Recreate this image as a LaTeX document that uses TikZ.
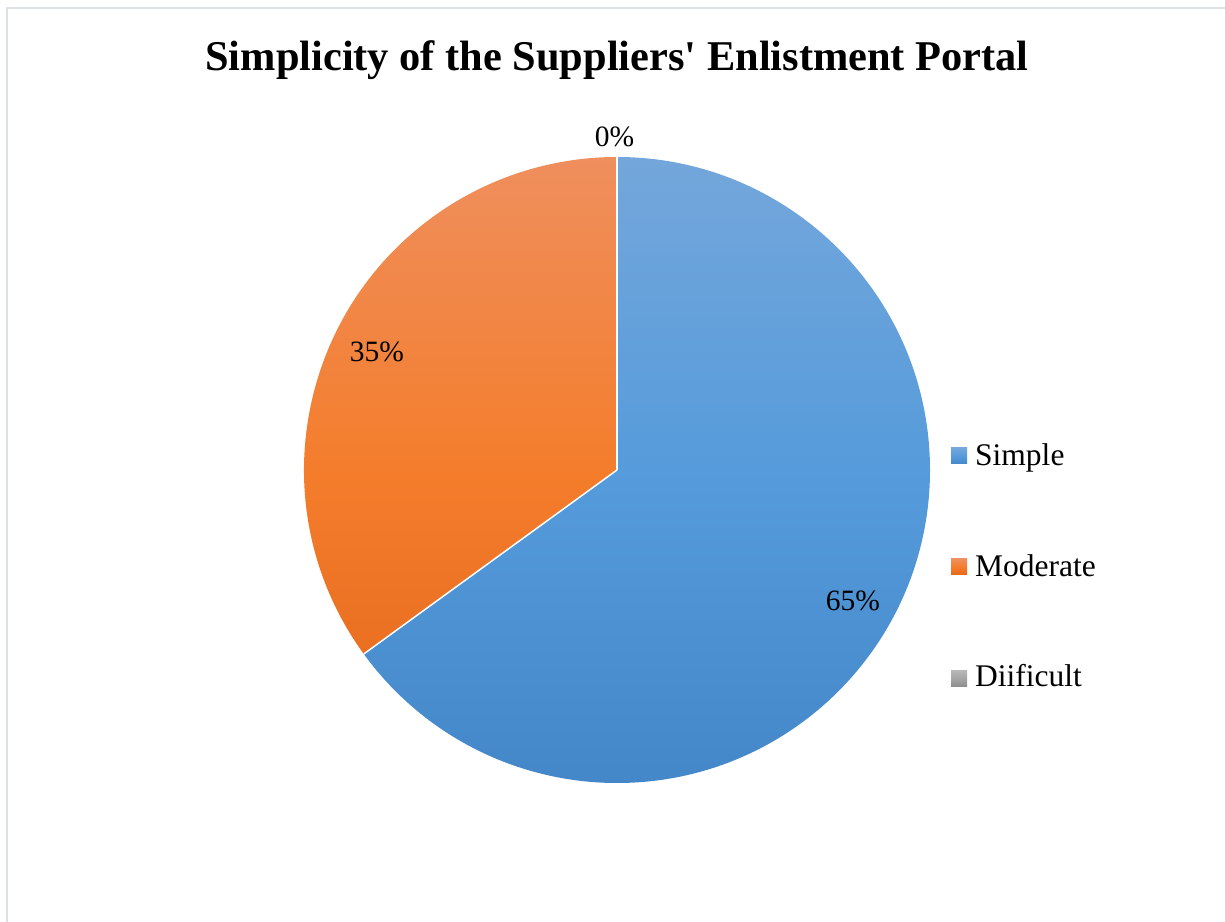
\documentclass[tikz,border=0pt]{standalone}
\usepackage{fontspec}
\setmainfont{Liberation Serif}[Ligatures=TeXOff]
\usetikzlibrary{calc}
\definecolor{framecol}{HTML}{DDE2E7}
\definecolor{blueTop}{HTML}{74A7DB}
\definecolor{blueMid}{HTML}{569BDB}
\definecolor{blueBot}{HTML}{4387C8}
\definecolor{orTop}{HTML}{EF8F5E}
\definecolor{orMid}{HTML}{F47D2C}
\definecolor{orBot}{HTML}{E4661A}
\definecolor{grTop}{HTML}{B8B8B8}
\definecolor{grMid}{HTML}{A5A5A5}
\definecolor{grBot}{HTML}{8E8E8E}
\tikzset{
  pct/.style={anchor=base, inner sep=0pt, font=\fontsize{29.5}{34}\selectfont},
  legtext/.style={anchor=base west, inner sep=0pt, font=\fontsize{31.5}{36}\selectfont},
  legkey/.style={minimum size=16pt, inner sep=0pt},
  blueshade/.style={top color=blueTop, bottom color=blueBot, middle color=blueMid},
  orshade/.style={top color=orTop, bottom color=orBot, middle color=orMid},
  grshade/.style={top color=grTop, bottom color=grBot, middle color=grMid},
  sep/.style={draw=white, line width=1.5pt}
}
\begin{document}
\begin{tikzpicture}[x=1pt,y=1pt]
\useasboundingbox (0,0) rectangle (1225,921);
% chart area frame
\draw[framecol, line width=2pt] (7.3,-10) -- (7.3,913) -- (1240,913);

% pie centre and radius
\coordinate (c) at (617,451);
\def\R{313}

% Simple, 65%
\begin{scope}
  \clip (c) -- ++(90:\R) arc[start angle=90, end angle=-144, radius=\R] -- cycle;
  \shade[blueshade] (300,134) rectangle (934,768);
\end{scope}
% Moderate, 35%
\begin{scope}
  \clip (c) -- ++(216:\R) arc[start angle=216, end angle=90, radius=\R] -- cycle;
  \shade[orshade] (300,134) rectangle (934,768);
\end{scope}
% slice borders
\coordinate (top) at ($(c)+(90:\R)$);
\coordinate (low) at ($(c)+(216:\R)$);
\draw[sep] (c) -- (top);
\draw[sep] (c) -- (low);

% title
\node[anchor=base, inner sep=0pt, font=\fontsize{42.4}{50}\selectfont\bfseries] (title) at (617,850)
  {Simplicity of the Suppliers' Enlistment Portal};

% data labels
\node[pct] (l0) at (614.5,774) {0\%};
\node[pct] (l35) at (377,559) {35\%};
\node[pct] (l65) at (853,310) {65\%};

% legend
\node[legkey, blueshade] (k1) at (959,465) {};
\node[legkey, orshade] (k2) at (959,354) {};
\node[legkey, grshade] (k3) at (959,242.5) {};
\node[legtext] (t1) at (975,455.3) {Simple};
\node[legtext] (t2) at (975,344.3) {Moderate};
\node[legtext] (t3) at (975,234) {Diificult};
\end{tikzpicture}
\end{document}
